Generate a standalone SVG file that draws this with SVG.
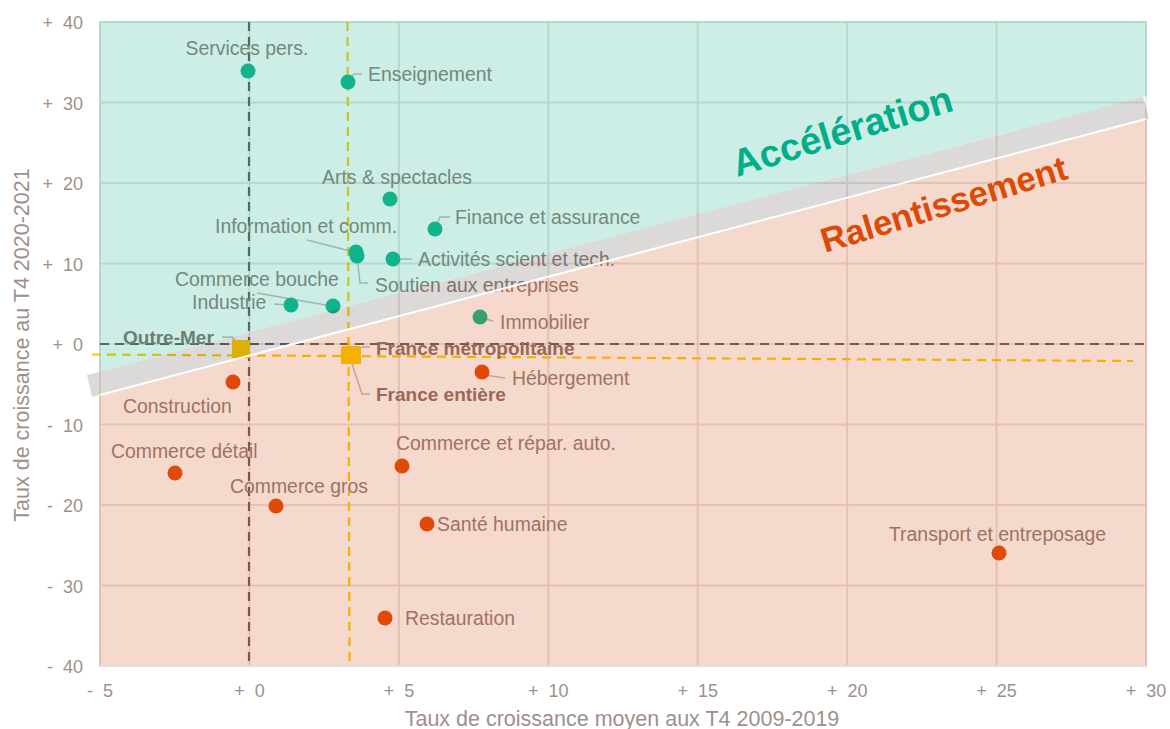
<svg xmlns="http://www.w3.org/2000/svg" width="1170" height="729" viewBox="0 0 1170 729">
<style>
text{font-family:"Liberation Sans",Arial,sans-serif;}
.tick{font-size:18px;fill:#A0908A;}
.ax{font-size:21.5px;fill:#A0908A;}
.lbl{font-size:19.4px;fill:#92807A;}
.bl{font-size:19px;font-weight:bold;fill:#8A736C;}
.grid{stroke:#E6E3E1;stroke-width:2;fill:none;}
.pt{fill:#14B68F;}
.po{fill:#E34C0B;}
.sq{fill:#FECC00;}
.lead{stroke:#C4BCB8;stroke-width:1.5;fill:none;}
.dd{stroke:#625D60;stroke-width:2.2;stroke-dasharray:9 6;fill:none;}
.dy{stroke:#FECC00;stroke-width:2.2;stroke-dasharray:9 6;fill:none;}
</style>
<rect width="1170" height="729" fill="#FFFFFF"/>
<g id="grid">
<path class="grid" d="M100 22V666M249.4 22V666M398.9 22V666M548.3 22V666M697.7 22V666M847.2 22V666M996.6 22V666M1146 22V666M100 22H1146M100 102.5H1146M100 183H1146M100 263.5H1146M100 344H1146M100 424.5H1146M100 505H1146M100 585.5H1146"/>
</g>
<g id="axes">
<text class="tick" x="83" y="29" text-anchor="end">+&#160;&#160;40</text>
<text class="tick" x="83" y="109.5" text-anchor="end">+&#160;&#160;30</text>
<text class="tick" x="83" y="190" text-anchor="end">+&#160;&#160;20</text>
<text class="tick" x="83" y="270.5" text-anchor="end">+&#160;&#160;10</text>
<text class="tick" x="83" y="351" text-anchor="end">+&#160;&#160;0</text>
<text class="tick" x="83" y="431.5" text-anchor="end">-&#160;&#160;10</text>
<text class="tick" x="83" y="512" text-anchor="end">-&#160;&#160;20</text>
<text class="tick" x="83" y="592.5" text-anchor="end">-&#160;&#160;30</text>
<text class="tick" x="83" y="673" text-anchor="end">-&#160;&#160;40</text>
<text class="tick" x="100" y="697" text-anchor="middle">-&#160;&#160;5</text>
<text class="tick" x="249.4" y="697" text-anchor="middle">+&#160;&#160;0</text>
<text class="tick" x="398.9" y="697" text-anchor="middle">+&#160;&#160;5</text>
<text class="tick" x="548.3" y="697" text-anchor="middle">+&#160;&#160;10</text>
<text class="tick" x="697.7" y="697" text-anchor="middle">+&#160;&#160;15</text>
<text class="tick" x="847.2" y="697" text-anchor="middle">+&#160;&#160;20</text>
<text class="tick" x="996.6" y="697" text-anchor="middle">+&#160;&#160;25</text>
<text class="tick" x="1146" y="697" text-anchor="middle">+&#160;&#160;30</text>
<text class="ax" x="622" y="726" text-anchor="middle">Taux de croissance moyen aux T4 2009-2019</text>
<text class="ax" x="29" y="345" text-anchor="middle" transform="rotate(-90 29 345)">Taux de croissance au T4 2020-2021</text>
</g>
<g id="reference-lines">
<line class="dd" x1="249" y1="22" x2="249" y2="666"/>
<line class="dd" x1="100" y1="344" x2="1146" y2="344"/>
<line class="dy" x1="347.5" y1="22" x2="349.5" y2="666"/>
<line class="dy" x1="92" y1="354.5" x2="1133" y2="361"/>
</g>
<g id="connectors">
<polyline class="lead" points="349,80 354,74 362,74"/>
<polyline class="lead" points="436,227 440,217 450,217"/>
<polyline class="lead" points="307,240 354,252"/>
<polyline class="lead" points="357,256 360,283 368,283"/>
<polyline class="lead" points="396,259 412,259"/>
<polyline class="lead" points="257,293 331,306"/>
<polyline class="lead" points="274,304 288,305"/>
<polyline class="lead" points="482,318 493,321"/>
<polyline class="lead" points="485,375 505,378"/>
<polyline class="lead" points="222,337 232,337 240,346"/>
<polyline class="lead" points="352,356 362,347 370,347"/>
<polyline class="lead" points="350,358 362,394 370,394"/>
</g>
<g id="node-services-pers"><circle class="pt" cx="248" cy="71" r="7.5"/><text class="lbl" x="247" y="55" text-anchor="middle">Services pers.</text></g>
<g id="node-enseignement"><circle class="pt" cx="348" cy="82" r="7.5"/><text class="lbl" x="368" y="81">Enseignement</text></g>
<g id="node-arts-spectacles"><circle class="pt" cx="390" cy="199" r="7.5"/><text class="lbl" x="397" y="184" text-anchor="middle">Arts &amp; spectacles</text></g>
<g id="node-finance"><circle class="pt" cx="435" cy="229" r="7.5"/><text class="lbl" x="455" y="224">Finance et assurance</text></g>
<g id="node-information"><circle class="pt" cx="356" cy="252" r="7.5"/><text class="lbl" x="215" y="233">Information et comm.</text></g>
<g id="node-soutien"><circle class="pt" cx="357" cy="256" r="7.5"/><text class="lbl" x="375" y="292">Soutien aux entreprises</text></g>
<g id="node-activites"><circle class="pt" cx="393" cy="259" r="7.5"/><text class="lbl" x="418" y="266">Activités scient et tech.</text></g>
<g id="node-commerce-bouche"><circle class="pt" cx="333" cy="306" r="7.5"/><text class="lbl" x="175" y="286">Commerce bouche</text></g>
<g id="node-industrie"><circle class="pt" cx="291" cy="305" r="7.5"/><text class="lbl" x="192" y="309">Industrie</text></g>
<g id="node-immobilier"><circle class="pt" cx="480" cy="317" r="7.5"/><text class="lbl" x="500" y="329">Immobilier</text></g>
<g id="node-construction"><circle class="po" cx="233" cy="382" r="7.5"/><text class="lbl" x="123" y="413">Construction</text></g>
<g id="node-commerce-detail"><circle class="po" cx="175" cy="473" r="7.5"/><text class="lbl" x="111" y="458">Commerce détail</text></g>
<g id="node-commerce-gros"><circle class="po" cx="276" cy="506" r="7.5"/><text class="lbl" x="230" y="493">Commerce gros</text></g>
<g id="node-commerce-auto"><circle class="po" cx="402" cy="466" r="7.5"/><text class="lbl" x="396" y="450">Commerce et répar. auto.</text></g>
<g id="node-sante"><circle class="po" cx="427" cy="524" r="7.5"/><text class="lbl" x="437" y="531">Santé humaine</text></g>
<g id="node-restauration"><circle class="po" cx="385" cy="618" r="7.5"/><text class="lbl" x="405" y="625">Restauration</text></g>
<g id="node-hebergement"><circle class="po" cx="482" cy="372" r="7.5"/><text class="lbl" x="512" y="385">Hébergement</text></g>
<g id="node-transport"><circle class="po" cx="999" cy="553" r="7.5"/><text class="lbl" x="889" y="541">Transport et entreposage</text></g>
<g id="node-outre-mer"><rect class="sq" x="232" y="340" width="18" height="18"/><text class="bl" x="123" y="344">Outre-Mer</text></g>
<g id="node-france-metropolitaine"><rect class="sq" x="342" y="346" width="18" height="17"/><text class="bl" x="376" y="355">France métropolitaine</text></g>
<g id="node-france-entiere"><rect class="sq" x="341" y="347" width="20" height="17"/><text class="bl" x="376" y="401">France entière</text></g>
<g id="zones">
<polygon points="99,21 1147,21 1147,95.9 99,371.8" fill="rgb(0,170,130)" fill-opacity="0.2"/>
<polygon points="99,395.3 1147,118.7 1147,665 99,665" fill="rgb(210,65,5)" fill-opacity="0.2"/>
<polygon points="87,375 1143,97 1149,118.2 92,397.1" fill="#3D322C" fill-opacity="0.18"/>
<line x1="100" y1="395" x2="1146" y2="119" stroke="#FFFFFF" stroke-width="2"/>
<line x1="99" y1="666" x2="1147" y2="666" stroke="#E2DEDC" stroke-width="2"/>
</g>
<g id="zone-labels">
<text x="737" y="177" transform="rotate(-17 737 177)" style="font-size:38px;font-weight:bold;fill:#00AE88">Accélération</text>
<text x="825" y="253" transform="rotate(-17 825 253)" style="font-size:34.6px;font-weight:bold;fill:#DC4A08">Ralentissement</text>
</g>
</svg>
